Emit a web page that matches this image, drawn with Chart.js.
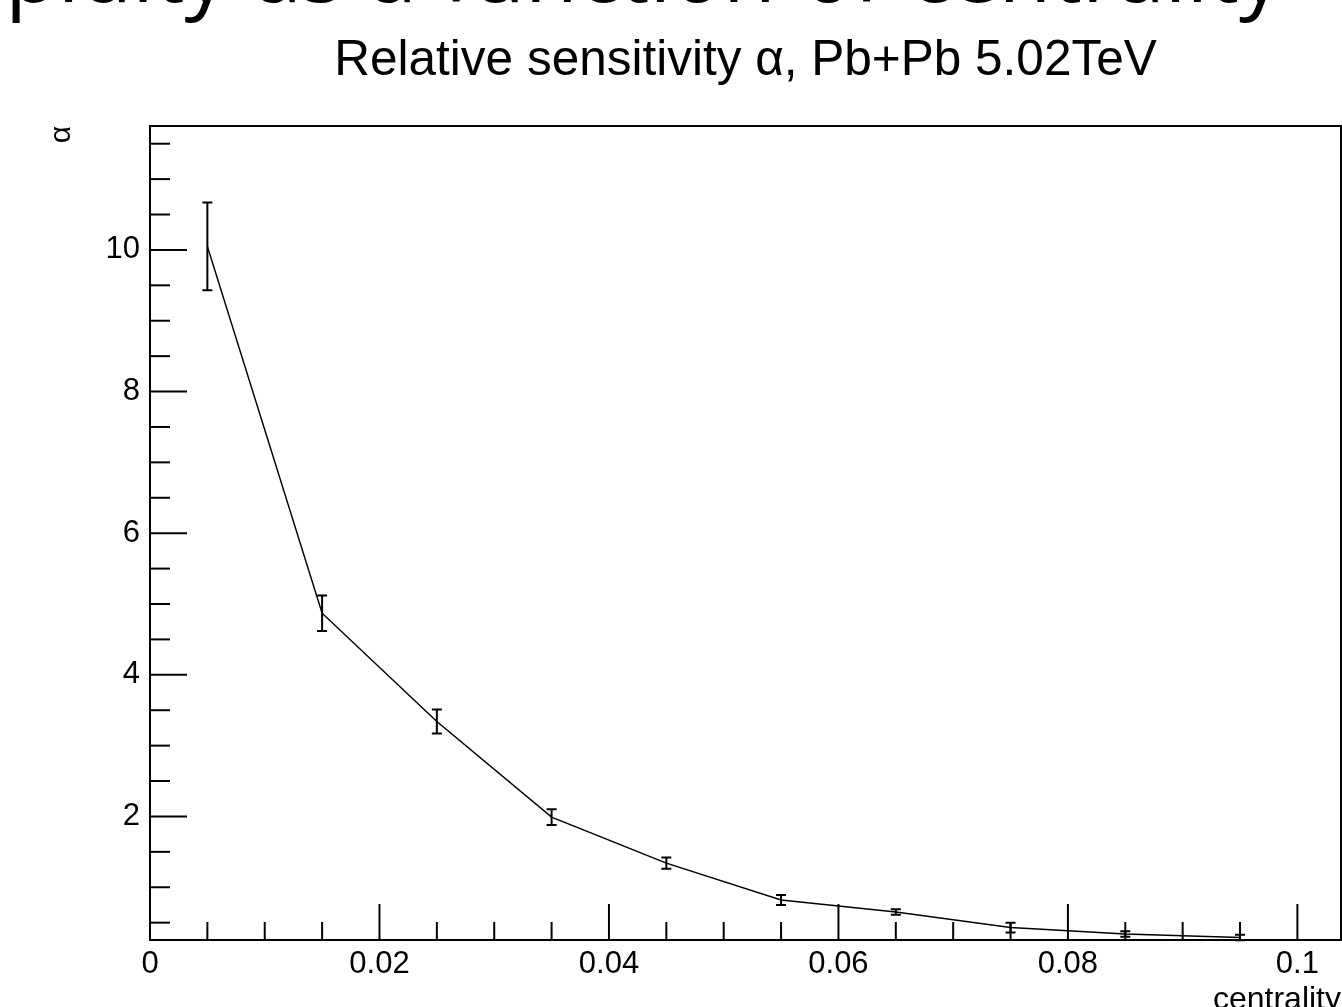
<!DOCTYPE html>
<html>
<head>
<meta charset="utf-8">
<script src="https://cdn.jsdelivr.net/npm/chart.js@4.4.1/dist/chart.umd.min.js"></script>
<style>
  html, body { margin: 0; padding: 0; background: #fff; overflow: hidden; }
  #wrap { position: relative; width: 1342px; height: 1007px; }
  #slide { position: absolute; top: -74px; right: 60px; font-family: 'Open Sans', sans-serif; font-size: 86px; line-height: 1; word-spacing: 4px; white-space: nowrap; color: #000; z-index: 2; }
  canvas { position: absolute; left: 0; top: 0; }
</style>
</head>
<body>
<div id="wrap">
  <div id="slide">rapidity as a function of centrality</div>
  <canvas id="c" width="1342" height="1007"></canvas>
</div>
<script>
// ---- data ----
const centrality = [0.005, 0.015, 0.025, 0.035, 0.045, 0.055, 0.065, 0.075, 0.085, 0.095];
const alphaValues = [10.05, 4.87, 3.34, 1.99, 1.34, 0.82, 0.65, 0.43, 0.34, 0.29];
const alphaErrors = [0.62, 0.25, 0.17, 0.11, 0.08, 0.07, 0.04, 0.07, 0.04, 0.04];
const xTickValues = [0, 0.02, 0.04, 0.06, 0.08, 0.1];
const xTickLabels = ['0', '0.02', '0.04', '0.06', '0.08', '0.1'];
const yTickValues = [2, 4, 6, 8, 10];
const yTickLabels = ['2', '4', '6', '8', '10'];
const chartTitle = 'Relative sensitivity \u03B1, Pb+Pb 5.02TeV';
const xTitle = 'centrality';
const yTitle = '\u03B1';

const FONT = "'Liberation Sans', Arial, Helvetica, sans-serif";

const rootFrame = {
  id: 'rootFrame',
  afterDatasetsDraw(chart) {
    const {ctx, chartArea: a, scales: {x, y}} = chart;
    ctx.save();
    ctx.strokeStyle = '#000';
    // error bars
    ctx.lineWidth = 2;
    centrality.forEach((cx, i) => {
      const px = x.getPixelForValue(cx);
      const top = y.getPixelForValue(alphaValues[i] + alphaErrors[i]);
      const bot = y.getPixelForValue(alphaValues[i] - alphaErrors[i]);
      ctx.beginPath();
      ctx.moveTo(px, top); ctx.lineTo(px, bot);
      ctx.moveTo(px - 5, top); ctx.lineTo(px + 5, top);
      ctx.moveTo(px - 5, bot); ctx.lineTo(px + 5, bot);
      ctx.stroke();
    });
    // frame
    ctx.lineWidth = 2;
    ctx.strokeRect(a.left, a.top, a.right - a.left, a.bottom - a.top);
    // y ticks (inside)
    for (let k = 1; k * 0.5 <= y.max; k++) {
      const v = k * 0.5;
      if (v < y.min) continue;
      const py = y.getPixelForValue(v);
      const major = yTickValues.includes(v);
      ctx.beginPath();
      ctx.moveTo(a.left, py); ctx.lineTo(a.left + (major ? 37 : 20), py);
      ctx.stroke();
    }
    // x ticks (inside)
    for (let k = 1; k * 0.005 <= x.max + 1e-9; k++) {
      const v = +(k * 0.005).toFixed(4);
      const px = x.getPixelForValue(v);
      const major = k % 4 === 0;
      ctx.beginPath();
      ctx.moveTo(px, a.bottom); ctx.lineTo(px, a.bottom - (major ? 36 : 18));
      ctx.stroke();
    }
    ctx.restore();
  }
};

new Chart(document.getElementById('c'), {
  type: 'line',
  data: {
    datasets: [{
      data: centrality.map((cx, i) => ({x: cx, y: alphaValues[i]})),
      borderColor: '#000',
      borderWidth: 1.5,
      pointRadius: 0,
      tension: 0,
      fill: false
    }]
  },
  options: {
    responsive: false,
    animation: false,
    devicePixelRatio: 1,
    layout: { padding: { left: 0, right: 1, top: 0, bottom: 0 } },
    plugins: {
      legend: { display: false },
      tooltip: { enabled: false },
      title: {
        display: true,
        text: chartTitle,
        fullSize: false,
        color: '#000',
        font: { family: FONT, size: 49.5, weight: 'normal', lineHeight: 1.2 },
        padding: { top: 32, bottom: 34.6 }
      }
    },
    scales: {
      x: {
        type: 'linear',
        min: 0,
        max: 0.1038,
        grid: { display: false, drawTicks: false },
        border: { display: true, color: '#000', width: 2 },
        afterBuildTicks: s => { s.ticks = xTickValues.map(v => ({value: v})); },
        afterFit: s => { s.height = 67; },
        ticks: {
          autoSkip: false, maxRotation: 0, color: '#000', padding: 6,
          font: { family: FONT, size: 31 },
          callback: (v) => { const i = xTickValues.indexOf(v); return i >= 0 ? xTickLabels[i] : ''; }
        },
        title: {
          display: true, text: xTitle, align: 'end', color: '#000',
          font: { family: FONT, size: 32, lineHeight: 1.2 },
          padding: { top: 0, bottom: -12 }
        }
      },
      y: {
        type: 'linear',
        min: 0.255,
        max: 11.75,
        grid: { display: false, drawTicks: false },
        border: { display: true, color: '#000', width: 2 },
        afterBuildTicks: s => { s.ticks = yTickValues.map(v => ({value: v})); },
        afterFit: s => { s.width = 150; },
        ticks: {
          color: '#000', padding: 10,
          font: { family: FONT, size: 31 },
          callback: (v) => { const i = yTickValues.indexOf(v); return i >= 0 ? yTickLabels[i] : ''; }
        },
        title: {
          display: true, text: yTitle, align: 'end', color: '#000',
          font: { family: FONT, size: 30, lineHeight: 1.2 },
          padding: { top: 44, bottom: 0 }
        }
      }
    }
  },
  plugins: [rootFrame]
});
</script>
</body>
</html>
